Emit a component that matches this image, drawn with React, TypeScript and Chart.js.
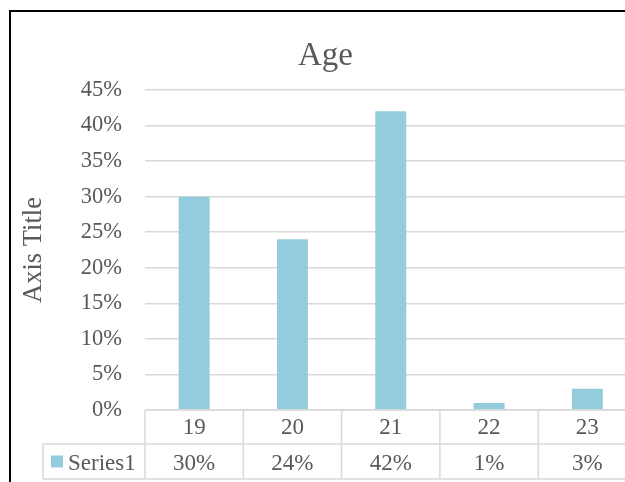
import { useEffect, useRef } from "react";
import { Chart, registerables } from "chart.js";

Chart.register(...registerables);

// Data
const categories = ["19", "20", "21", "22", "23"];
const seriesName = "Series1";
const seriesValues = [0.3, 0.24, 0.42, 0.01, 0.03];
const yMax = 0.45;
const yStep = 0.05;

const chartTitle = "Age";
const yAxisTitle = "Axis Title";

const SERIF = "'Liberation Serif', 'Times New Roman', Times, serif";
const TEXT = "#595959";
const GRID = "#d9d9d9";
const BAR = "#93cddd";

const W = 695;
const H = 515;

const pct = (v: number) => `${Math.round(v * 100)}%`;

// Frame plus data table under the plot area
const tablePlugin = {
  id: "dataTable",
  beforeDraw(chart: any) {
    const { ctx } = chart;
    ctx.save();
    ctx.fillStyle = "#ffffff";
    ctx.fillRect(0, 0, chart.width, chart.height);
    ctx.restore();
  },
  afterDraw(chart: any) {
    const { ctx, chartArea } = chart;
    const x = chart.scales.x;
    const n = categories.length;
    const left = chartArea.left;
    const right = chartArea.right;
    const step = (right - left) / n;
    const top = chartArea.bottom;
    const row1 = top + 34;
    const row2 = row1 + 35;
    const legendLeft = left - 102;

    ctx.save();
    // outer chart border
    ctx.strokeStyle = "#000000";
    ctx.lineWidth = 2;
    ctx.strokeRect(10, 11, W - 22, H - 22);

    ctx.strokeStyle = GRID;
    ctx.lineWidth = 1.5;
    ctx.beginPath();
    ctx.moveTo(left, top);
    ctx.lineTo(right, top);
    ctx.moveTo(legendLeft, row1);
    ctx.lineTo(right, row1);
    ctx.moveTo(legendLeft, row2);
    ctx.lineTo(right, row2);
    for (let i = 0; i <= n; i++) {
      const bx = left + i * step;
      ctx.moveTo(bx, top);
      ctx.lineTo(bx, row2);
    }
    ctx.moveTo(legendLeft, row1);
    ctx.lineTo(legendLeft, row2);
    ctx.stroke();

    ctx.fillStyle = TEXT;
    ctx.font = `23px ${SERIF}`;
    ctx.textAlign = "center";
    ctx.textBaseline = "middle";
    const midY = (row1 + row2) / 2;
    categories.forEach((c, i) => {
      const cx = x.getPixelForValue(i);
      ctx.fillText(c, cx, (top + row1) / 2 + 1);
      ctx.fillText(pct(seriesValues[i]), cx, midY + 2);
    });

    // legend key
    ctx.fillStyle = BAR;
    ctx.fillRect(legendLeft + 8, midY - 6, 12, 12);
    ctx.fillStyle = TEXT;
    ctx.textAlign = "left";
    ctx.fillText(seriesName, legendLeft + 25, midY + 2);
    ctx.restore();
  },
};

export default function App() {
  const ref = useRef<HTMLCanvasElement | null>(null);

  useEffect(() => {
    if (!ref.current) return;
    const chart = new Chart(ref.current, {
      type: "bar",
      data: {
        labels: categories,
        datasets: [
          {
            label: seriesName,
            data: seriesValues,
            backgroundColor: BAR,
            categoryPercentage: 1,
            barPercentage: 0.315,
            yAxisID: "y",
          },
        ],
      },
      options: {
        responsive: false,
        animation: false,
        layout: { padding: { left: 0, top: 0, right: 44, bottom: 105 } },
        plugins: {
          legend: { display: false },
          tooltip: { enabled: false },
          title: {
            display: true,
            text: chartTitle,
            color: TEXT,
            font: { family: SERIF, size: 33, weight: "normal" },
            padding: { top: 36.5, bottom: 13.9 },
          },
        },
        scales: {
          x: { display: false },
          y: {
            min: 0,
            max: yMax,
            afterFit: (scale: any) => {
              scale.width = 145;
            },
            border: { display: false },
            grid: { color: GRID, lineWidth: 1.5, drawTicks: false },
            ticks: {
              stepSize: yStep,
              padding: 23,
              color: TEXT,
              font: { family: SERIF, size: 22.5 },
              callback: (v: any) => pct(Number(v)),
            },
            title: {
              display: true,
              text: yAxisTitle,
              color: TEXT,
              font: { family: SERIF, size: 26.5 },
              padding: { top: 18, bottom: 0 },
            },
          },
          // blank right-hand gutter between plot area and chart edge
          gutter: {
            type: "linear",
            position: "right",
            display: true,
            min: 0,
            max: yMax,
            afterFit: (scale: any) => {
              scale.width = 14.5;
            },
            border: { display: false },
            grid: { display: false, drawOnChartArea: false },
            ticks: { display: false },
          },
        },
      },
      plugins: [tablePlugin],
    });
    return () => chart.destroy();
  }, []);

  return (
    <div
      style={{
        position: "fixed",
        left: 0,
        top: 0,
        width: 625,
        height: 482,
        overflow: "hidden",
        background: "#fff",
      }}
    >
      <canvas ref={ref} width={W} height={H} style={{ display: "block" }} />
    </div>
  );
}
